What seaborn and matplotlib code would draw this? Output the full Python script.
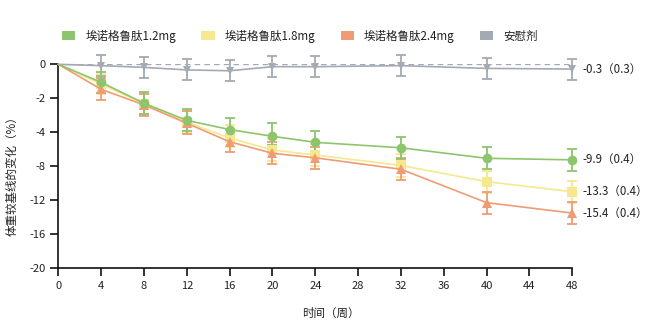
import numpy as np
import pandas as pd
import matplotlib
matplotlib.use("Agg")
import matplotlib.pyplot as plt
from matplotlib.patches import Patch
import seaborn as sns

# ---------------- data ----------------
weeks = [0, 4, 8, 12, 16, 20, 24, 32, 40, 48]
groups = ["埃诺格鲁肽1.2mg", "埃诺格鲁肽1.8mg", "埃诺格鲁肽2.4mg", "安慰剂"]

val_12 = [0, -1.06, -2.29, -3.30, -3.84, -4.47, -5.18, -5.82, -7.06, -7.24]
val_18 = [0, -1.16, -2.33, -3.40, -4.67, -6.08, -6.67, -7.90, -9.81, -10.99]
val_24 = [0, -1.47, -2.39, -3.47, -5.11, -6.47, -7.00, -8.35, -12.28, -13.50]
val_pl = [0, -0.08, -0.18, -0.33, -0.38, -0.14, -0.14, -0.08, -0.24, -0.28]

err_12 = [0, 0.60, 0.65, 0.65, 0.70, 1.00, 1.25, 1.30, 1.30, 1.30]
err_18 = [0, 0.60, 0.65, 0.65, 1.10, 1.30, 1.30, 1.30, 1.30, 1.30]
err_24 = [0, 0.65, 0.65, 0.70, 1.25, 1.30, 1.30, 1.30, 1.30, 1.30]
err_pl = [0, 0.62, 0.62, 0.62, 0.62, 0.62, 0.62, 0.62, 0.62, 0.62]

end_labels = ["-9.9（0.4）", "-13.3（0.4）", "-15.4（0.4）", "-0.3（0.3）"]

y_ticks = [0, -2, -4, -8, -12, -16, -20]
x_ticks = list(range(0, 49, 4))

colors = ["#8dc56d", "#f6e88e", "#ef9c75", "#a3aab2"]
markers = ["o", "s", "^", "v"]
msizes = [7.0, 6.5, 6.5, 6.0]

values = [val_12, val_18, val_24, val_pl]
errors = [err_12, err_18, err_24, err_pl]

df = pd.DataFrame({
    "week": weeks * 4,
    "value": val_12 + val_18 + val_24 + val_pl,
    "group": sum([[g] * len(weeks) for g in groups], []),
})

# ---------------- style ----------------
sns.set_theme(style="ticks")
plt.rcParams["font.family"] = ["Noto Sans CJK SC", "DejaVu Sans"]
plt.rcParams["axes.unicode_minus"] = False

fig = plt.figure(figsize=(6.5, 3.26), dpi=100)
ax = fig.add_axes([58.3 / 650, 1 - 268.3 / 326, (572.3 - 58.3) / 650, (268.3 - 64.3) / 326])


def fwd(y):
    y = np.asarray(y, dtype=float)
    return np.where(y >= -4, y / 2.0, -2.0 + (y + 4.0) / 4.0)


def inv(t):
    t = np.asarray(t, dtype=float)
    return np.where(t >= -2, t * 2.0, -4.0 + (t + 2.0) * 4.0)


ax.set_yscale("function", functions=(fwd, inv))

# zero reference line
ax.axhline(0, color=colors[3], lw=1.0, ls=(0, (4, 3)), zorder=1)

# draw order: placebo, 1.8, 2.4, 1.2 (green on top)
order = [3, 1, 2, 0]
for i in order:
    ax.errorbar(weeks[1:], values[i][1:], yerr=errors[i][1:], fmt="none",
                ecolor=colors[i], elinewidth=1.3, capsize=3.8, capthick=1.3,
                zorder=2 + order.index(i), clip_on=False)

sns.lineplot(data=df, x="week", y="value", hue="group", style="group",
             hue_order=[groups[i] for i in order], style_order=[groups[i] for i in order],
             palette={g: c for g, c in zip(groups, colors)},
             markers={g: m for g, m in zip(groups, markers)},
             dashes=False, linewidth=1.2, markersize=7, markeredgewidth=0,
             legend=False, ax=ax, zorder=6, clip_on=False)

# per-group marker sizes; no marker at baseline (week 0)
for line in ax.get_lines():
    c = matplotlib.colors.to_hex(line.get_color())
    for i, col in enumerate(colors):
        if c == col and line.get_marker() not in (None, "None", ""):
            line.set_markersize(msizes[i])
            line.set_markevery(list(range(1, len(weeks))))
            line.set_clip_on(False)

# end labels
for i in range(4):
    ax.annotate(end_labels[i], xy=(weeks[-1], values[i][-1]), xytext=(7, 0),
                textcoords="offset points", ha="left", va="center",
                fontsize=8.3, color="#222222", annotation_clip=False)

ax.set_xlim(0, 48)
ax.set_ylim(-20, 0)
ax.set_xticks(x_ticks)
ax.set_xticklabels([str(v) for v in x_ticks])
ax.set_yticks(y_ticks)
ax.set_yticklabels([str(v) for v in y_ticks])
ax.minorticks_off()

for s in ["top", "right"]:
    ax.spines[s].set_visible(False)
for s in ["left", "bottom"]:
    ax.spines[s].set_color("#111111")
    ax.spines[s].set_linewidth(1.2)

ax.tick_params(axis="both", direction="out", length=6, width=1.2, color="#111111",
               labelsize=8, labelcolor="#222222", pad=3)

ax.set_xlabel("时间（周）", fontsize=8.3, color="#222222")
ax.set_ylabel("体重较基线的变化（%）", fontsize=8.3, color="#222222")
ax.xaxis.set_label_coords((331 - 58.3) / 514, -(307 - 268.3) / 204)
ax.yaxis.set_label_coords((19 - 58.3) / 514, (268.3 - 173) / 204)

handles = [Patch(facecolor=c, edgecolor="none") for c in colors]
fig.legend(handles, groups, loc="center left", bbox_to_anchor=(62 / 650, 1 - 36 / 326),
           ncol=4, frameon=False, fontsize=8.3, handlelength=1.17, handleheight=0.72,
           handletextpad=0.85, columnspacing=2.2, borderpad=0, borderaxespad=0,
           labelcolor="#222222")

fig.savefig("out.png", dpi=100)
